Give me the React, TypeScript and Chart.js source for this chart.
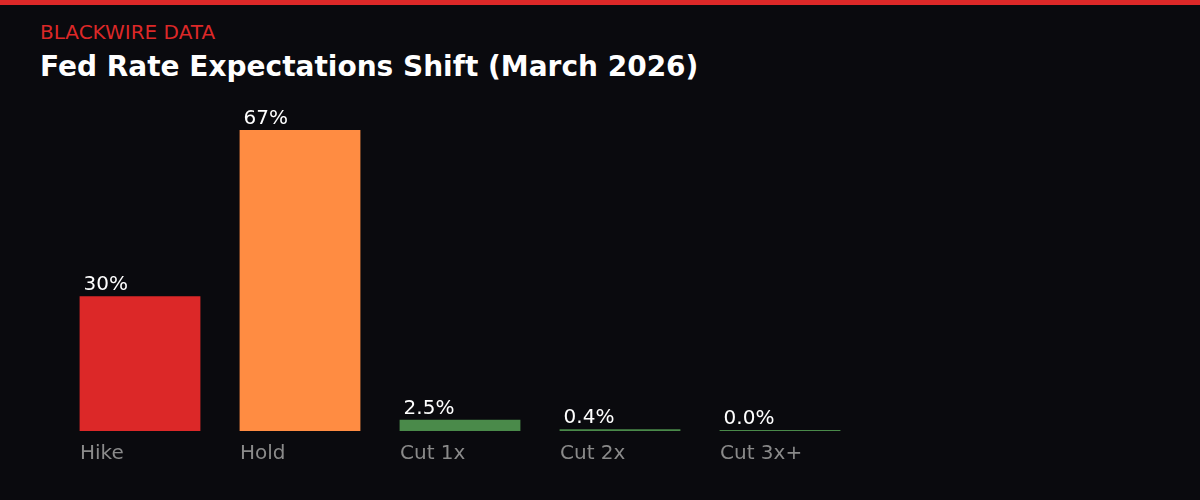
import { useEffect, useRef } from 'react'
import { Chart, registerables } from 'chart.js'
import type { Plugin } from 'chart.js'

Chart.register(...registerables)

const CATEGORIES = ['Hike', 'Hold', 'Cut 1x', 'Cut 2x', 'Cut 3x+']
const PROBABILITIES = [30, 67, 2.5, 0.4, 0.0]
const VALUE_LABELS = ['30%', '67%', '2.5%', '0.4%', '0.0%']
const BAR_COLORS = ['#dc2828', '#ff8c42', '#4a8a4a', '#4a8a4a', '#4a8a4a']

const FONT = '"DejaVu Sans", sans-serif'

// value labels, left-aligned just above each bar
const valueLabels: Plugin<'bar'> = {
  id: 'valueLabels',
  afterDatasetsDraw(chart) {
    const { ctx } = chart
    const meta = chart.getDatasetMeta(0)
    ctx.save()
    ctx.fillStyle = '#ffffff'
    ctx.font = `20px ${FONT}`
    ctx.textAlign = 'left'
    ctx.textBaseline = 'alphabetic'
    meta.data.forEach((el, i) => {
      const { x, y, width } = el.getProps(['x', 'y', 'width'], true) as any
      ctx.fillText(VALUE_LABELS[i], x - width / 2 + 4, y - 6)
    })
    ctx.restore()
  },
}

export default function App() {
  const ref = useRef<HTMLCanvasElement>(null)
  const chart = useRef<Chart<'bar'> | null>(null)

  useEffect(() => {
    if (!ref.current) return
    chart.current?.destroy()

    chart.current = new Chart(ref.current, {
      type: 'bar',
      data: {
        labels: CATEGORIES,
        datasets: [{
          data: PROBABILITIES,
          backgroundColor: BAR_COLORS,
          borderWidth: 0,
          barPercentage: 0.755,
          categoryPercentage: 1,
          minBarLength: 1,
        }],
      },
      options: {
        animation: false,
        responsive: false,
        maintainAspectRatio: false,
        layout: { padding: { left: 60, right: 340, top: 94, bottom: 0 } },
        plugins: { legend: { display: false }, tooltip: { enabled: false } },
        scales: {
          x: {
            grid: { display: false },
            border: { display: false },
            ticks: {
              color: '#8a8a8a',
              font: { family: FONT, size: 20 },
              align: 'start',
              labelOffset: -60,
              padding: 3,
            },
            afterFit: (s) => { s.height = 69 },
          },
          y: { display: false, min: 0, max: 75 },
        },
      },
      plugins: [valueLabels],
    })
    return () => chart.current?.destroy()
  }, [])

  return (
    <div style={{ position: 'fixed', left: 0, top: 0, width: 1200, height: 500, background: '#0a0a0e', overflow: 'hidden', fontFamily: FONT }}>
      <div style={{ position: 'absolute', left: 0, top: 0, width: 1200, height: 5, background: '#dc2828' }} />
      <div style={{ position: 'absolute', left: 40, top: 21, color: '#dc2828', fontSize: 20, lineHeight: '22px' }}>BLACKWIRE DATA</div>
      <div style={{ position: 'absolute', left: 40, top: 51, color: '#ffffff', fontSize: 28, fontWeight: 'bold', lineHeight: '32px' }}>
        Fed Rate Expectations Shift (March 2026)
      </div>
      <canvas ref={ref} width={1200} height={500} style={{ position: 'absolute', left: 0, top: 0, width: 1200, height: 500 }} />
    </div>
  )
}
